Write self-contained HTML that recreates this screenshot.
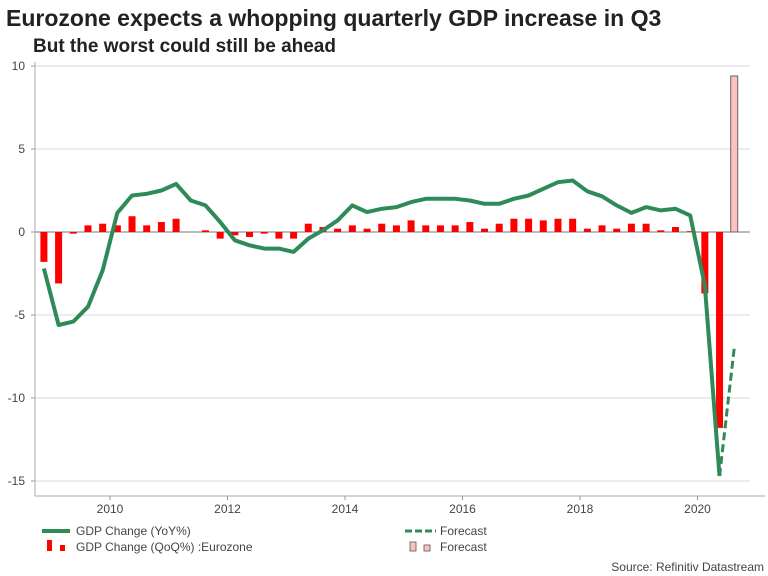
<!DOCTYPE html>
<html><head><meta charset="utf-8"><style>
body{margin:0;background:#fff;font-family:"Liberation Sans",sans-serif}
svg{display:block}
</style></head><body>
<svg width="768" height="576" id="c">
<text x="6" y="26" font-size="23" font-weight="bold" fill="#222">Eurozone expects a whopping quarterly GDP increase in Q3</text>
<text x="33" y="52" font-size="19" font-weight="bold" fill="#222">But the worst could still be ahead</text>
<g id="grid"></g><g id="bars"></g><g id="lines"></g><g id="axes"></g>
<g font-size="12" fill="#444">
<line x1="42" y1="531" x2="70" y2="531" stroke="#2e8b57" stroke-width="4"/>
<text x="76" y="535" fill="#444">GDP Change (YoY%)</text>
<rect x="47" y="540" width="5" height="11" fill="#f00"/><rect x="60" y="545" width="5" height="6" fill="#f00"/>
<text x="76" y="551" fill="#444">GDP Change (QoQ%)  :Eurozone</text>
<line x1="405" y1="531" x2="436" y2="531" stroke="#2e8b57" stroke-width="3" stroke-dasharray="7,3"/>
<text x="440" y="535" fill="#444">Forecast</text>
<rect x="410" y="542" width="6" height="9" fill="#ffc0c0" stroke="#555" stroke-width="0.8"/><rect x="424" y="545" width="6" height="6" fill="#ffc0c0" stroke="#555" stroke-width="0.8"/>
<text x="440" y="551" fill="#444">Forecast</text>
</g>
<text x="764" y="571" font-size="12" text-anchor="end" fill="#444">Source: Refinitiv Datastream</text>
</svg>
<script>
const startYear = 2008.875;
const qoq = [-1.8,-3.1,-0.1,0.4,0.5,0.4,0.95,0.4,0.6,0.8,0.0,0.1,-0.4,-0.2,-0.3,-0.1,-0.4,-0.4,0.5,0.3,0.2,0.4,0.2,0.5,0.4,0.7,0.4,0.4,0.4,0.6,0.2,0.5,0.8,0.8,0.7,0.8,0.8,0.2,0.4,0.2,0.5,0.5,0.1,0.3,0.05,-3.7,-11.8];
const qoqForecast = 9.4;
const yoy = [-2.2,-5.6,-5.4,-4.5,-2.3,1.15,2.2,2.3,2.5,2.9,1.9,1.6,0.6,-0.5,-0.8,-1.0,-1.0,-1.2,-0.4,0.1,0.7,1.6,1.2,1.4,1.5,1.8,2.0,2.0,2.0,1.9,1.7,1.7,2.0,2.2,2.6,3.0,3.1,2.45,2.15,1.6,1.15,1.5,1.3,1.4,1.0,-3.2,-14.7];
const yoyForecast = -7.0;
const yTicks = [10,5,0,-5,-10,-15];
const xTicks = [2010,2012,2014,2016,2018,2020];
const NS="http://www.w3.org/2000/svg";
const X = t => 110 + (t-2010)*58.75;
const Y = v => 232 - v*16.6;
function mk(tag,attrs,parent){const e=document.createElementNS(NS,tag);for(const k in attrs)e.setAttribute(k,attrs[k]);document.getElementById(parent).appendChild(e);return e;}
yTicks.forEach(v=>{
  const g=mk('line',{x1:35,x2:750,y1:Y(v),y2:Y(v),stroke:v===0?'#777':'#d8d8d8','stroke-width':1},'grid');
  
  
  mk('line',{x1:31,x2:35,y1:Y(v),y2:Y(v),stroke:'#999'},'axes');
  const t=mk('text',{x:25,y:Y(v)+4,'text-anchor':'end','font-size':12,fill:'#444'},'axes');
  t.textContent=v;
  
  
});
mk('line',{x1:35,x2:35,y1:62,y2:496,stroke:'#aaa'},'axes');
mk('line',{x1:35,x2:765,y1:496,y2:496,stroke:'#aaa'},'axes');
xTicks.forEach(yr=>{
  mk('line',{x1:X(yr),x2:X(yr),y1:496,y2:500,stroke:'#999'},'axes');
  const t=mk('text',{x:X(yr),y:513,'text-anchor':'middle','font-size':12,fill:'#444'},'axes');
  t.textContent=yr;
  
  
});
qoq.forEach((v,i)=>{
  const x=X(startYear+i*0.25);
  const r=mk('rect',{x:x-3.5,width:7,y:Math.min(Y(v),Y(0)),height:Math.abs(Y(v)-Y(0)),fill:'#f00'},'bars');
  
  
});
{
  const x=X(startYear+qoq.length*0.25);
  const r=mk('rect',{x:x-3.5,width:7,y:Math.min(Y(qoqForecast),Y(0)),height:Math.abs(Y(qoqForecast)-Y(0)),fill:'#ffc0c0',stroke:'#666','stroke-width':1},'bars');
  
  
}
const pts=yoy.map((v,i)=>X(startYear+i*0.25).toFixed(1)+','+Y(v).toFixed(1)).join(' ');
const pl=mk('polyline',{points:pts,fill:'none',stroke:'#2e8b57','stroke-width':4,'stroke-linejoin':'round'},'lines');


const li=yoy.length-1;
const fl=mk('line',{x1:X(startYear+li*0.25),y1:Y(yoy[li]),x2:X(startYear+(li+1)*0.25),y2:Y(yoyForecast),stroke:'#2e8b57','stroke-width':3,'stroke-dasharray':'8,4'},'lines');


</script>
</body></html>
